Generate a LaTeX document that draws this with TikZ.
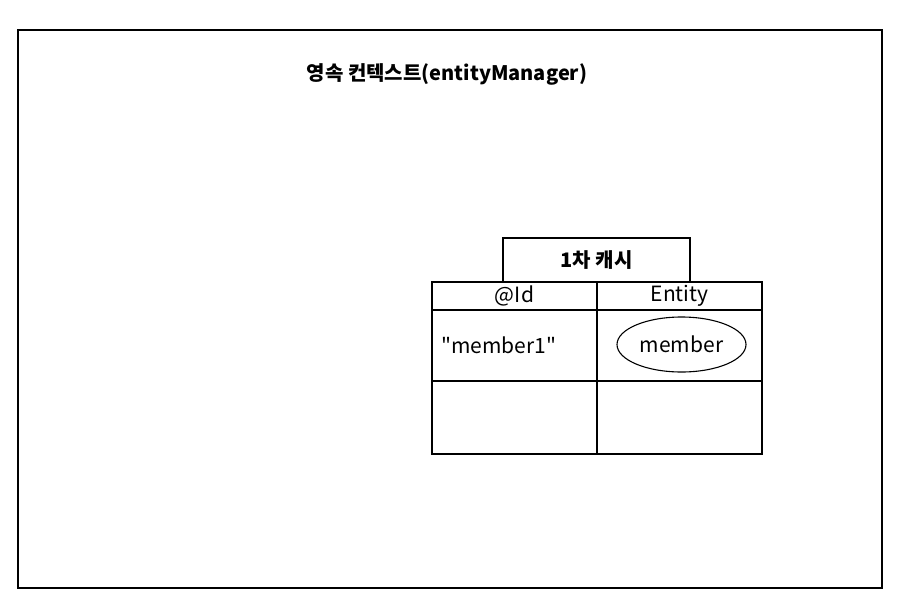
\documentclass[tikz,border=0pt]{standalone}
\usepackage{fontspec}
\newfontfamily\krfont{Noto Sans CJK KR}
\usepackage{tikz}
\usetikzlibrary{positioning,shapes.geometric}

\begin{document}
\begin{tikzpicture}[
        x=1pt, y=-1pt,
        frame/.style={draw, line width=1.6pt, rectangle, minimum width=864pt, minimum height=558pt, inner sep=0pt},
        heading/.style={font=\krfont\fontsize{20}{24}\selectfont\bfseries},
        cell/.style={draw, line width=1.2pt, rectangle, minimum width=165pt, inner sep=0pt, outer sep=0pt, font=\krfont\fontsize{21}{24}\selectfont},
        tab/.style={draw, line width=1.2pt, rectangle, minimum width=187pt, minimum height=44pt, inner sep=0pt, outer sep=0pt, font=\krfont\fontsize{20}{24}\selectfont\bfseries},
        obj/.style={draw, line width=1.1pt, ellipse, minimum width=129pt, minimum height=55pt, inner sep=0pt, font=\krfont\fontsize{21}{24}\selectfont},
        lab/.style={font=\krfont\fontsize{21}{24}\selectfont, inner sep=0pt}
    ]
        \useasboundingbox (0,0) rectangle (897,611);

        % Persistence context
        \node[frame] (ctx) at (450,309) {};
        \node[heading] (title) at (447,74) {영속 컨텍스트(entityManager)};

        % First-level cache tab
        \node[tab] (cache) at (596.5,260) {1차 캐시};

        % Header row
        \node[cell, minimum height=28pt] (idhead) at (514.5,296) {@Id};
        \node[cell, minimum height=28pt] (enthead) at (679.5,296) {Entity};

        % Row 1
        \node[cell, minimum height=71pt] (key1) at (514.5,345.5) {};
        \node[cell, minimum height=71pt] (val1) at (679.5,345.5) {};
        \node[lab, anchor=west] (id1) at (441,345) {"member1"};
        \node[obj] (member) at (681.5,344.5) {member};

        % Row 2
        \node[cell, minimum height=73pt] (key2) at (514.5,417.5) {};
        \node[cell, minimum height=73pt] (val2) at (679.5,417.5) {};
    \end{tikzpicture}
\end{document}
